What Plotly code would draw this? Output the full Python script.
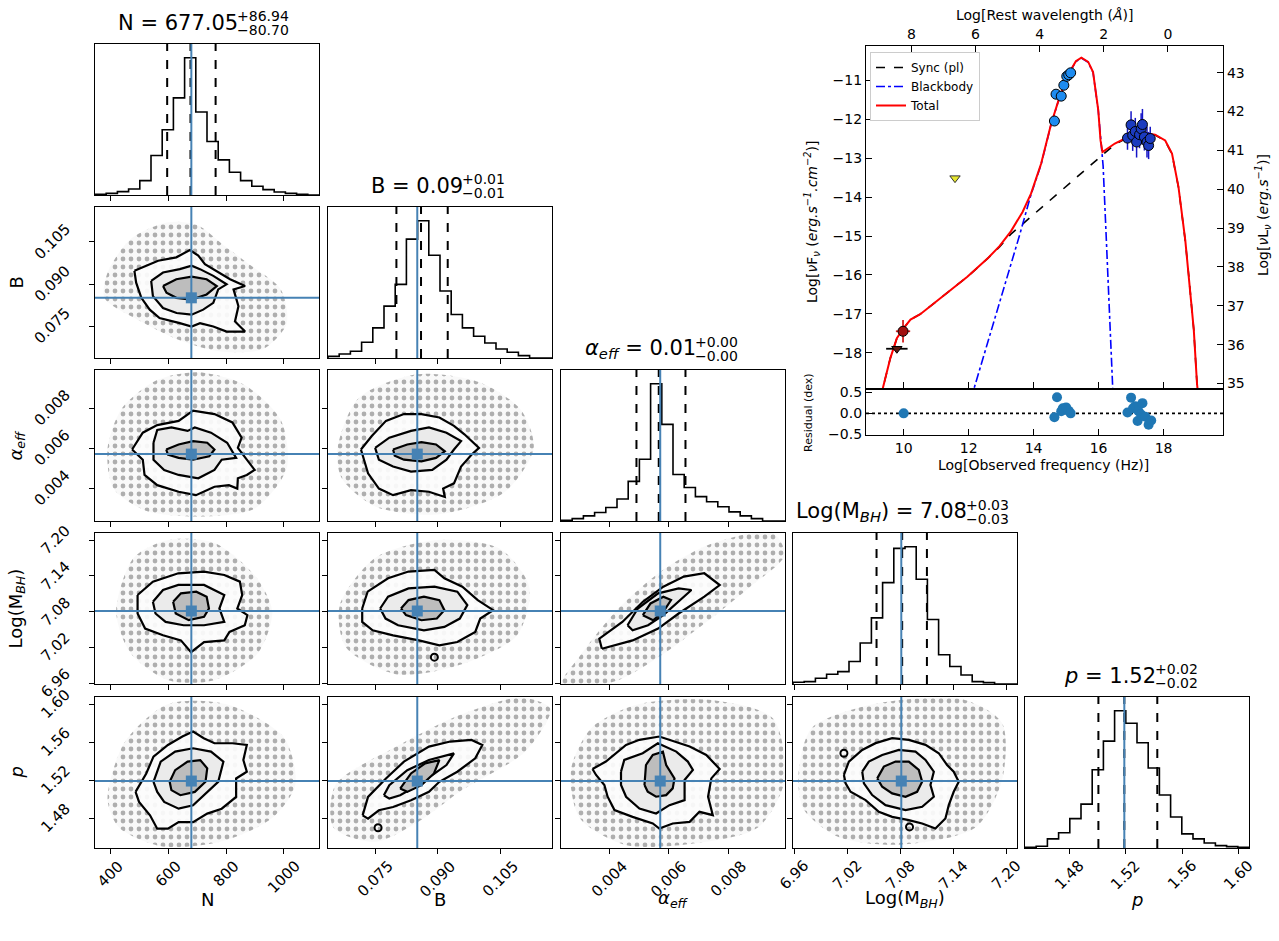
import numpy as np
import plotly.graph_objects as go

W, H = 1279, 941
FONT = "DejaVu Sans"
TRUTH = "#4682b4"
MINUS = "\u2212"

# ---------------- posterior summary (corner plot) ----------------
N_range = [346.6, 1121.8]
B_range = [0.0637, 0.1174]
A_range = [0.00237, 0.00991]
M_range = [6.9585, 7.2119]
P_range = [1.4485, 1.6075]

N_ticks = [400, 600, 800, 1000]
B_ticks = [0.075, 0.090, 0.105]
A_ticks = [0.004, 0.006, 0.008]
M_ticks = [6.96, 7.02, 7.08, 7.14, 7.20]
P_ticks = [1.48, 1.52, 1.56, 1.60]

N_truth, B_truth, A_truth, M_truth, P_truth = 680.0, 0.0851, 0.00571, 7.081, 1.519

# 16th / 50th / 84th percentiles
N_q = [596.35, 677.05, 763.99]
B_q = [0.0801, 0.0860, 0.0924]
A_q = [0.00491, 0.00566, 0.00656]
M_q = [7.053, 7.082, 7.110]
P_q = [1.5006, 1.5190, 1.5424]

# 20-bin marginal histograms over each axis range
N_hist = [2, 5, 10, 18, 43, 118, 195, 290, 410, 248, 160, 105, 68, 43, 26, 16, 9, 5, 2, 0]
B_hist = [5, 12, 20, 47, 90, 155, 220, 355, 410, 307, 200, 130, 90, 65, 45, 27, 17, 7, 0, 0]
A_hist = [2, 7, 15, 25, 40, 65, 117, 182, 405, 285, 137, 99, 72, 57, 42, 27, 15, 7, 0, 0]
M_hist = [5, 7, 17, 29, 37, 67, 122, 197, 302, 404, 409, 312, 192, 87, 52, 27, 7, 4, 0, 0]
P_hist = [2, 5, 27, 45, 87, 130, 232, 317, 407, 370, 312, 237, 157, 92, 42, 27, 15, 7, 4, 2]

# 2-D credible contours (outer / middle / inner) and sample-cloud outlines
B_N_outer = [(483, 0.0947), (565, 0.0983), (628, 0.0995), (675, 0.1021), (704, 0.1001), (727, 0.0971), (814, 0.0917), (866, 0.0893), (826, 0.0881), (843, 0.0821), (831, 0.0767), (866, 0.0731), (802, 0.0731), (756, 0.0749), (710, 0.0761), (681, 0.0749), (640, 0.0761), (570, 0.0779), (536, 0.0809), (507, 0.0851), (489, 0.0905)]
B_N_mid = [(541, 0.0911), (582, 0.0941), (640, 0.0953), (681, 0.0965), (710, 0.0953), (756, 0.0929), (802, 0.0899), (773, 0.0881), (756, 0.0833), (721, 0.0809), (681, 0.0791), (629, 0.0797), (582, 0.0815), (547, 0.0857)]
B_N_inner = [(582, 0.0893), (628, 0.0917), (681, 0.0926), (733, 0.0917), (768, 0.0893), (733, 0.0863), (681, 0.0845), (628, 0.0851), (594, 0.0869)]
B_N_cloud = [(390, 0.0940), (470, 0.1060), (600, 0.1120), (700, 0.1110), (790, 0.1040), (880, 0.0970), (990, 0.0880), (1010, 0.0760), (930, 0.0670), (780, 0.0660), (640, 0.0700), (500, 0.0770), (380, 0.0850)]

A_N_outer = [(475, 0.00594), (512, 0.00678), (562, 0.00716), (636, 0.00737), (686, 0.00788), (760, 0.00771), (822, 0.00729), (854, 0.00653), (841, 0.00602), (872, 0.00543), (899, 0.00492), (872, 0.00467), (841, 0.00450), (839, 0.00399), (810, 0.00416), (760, 0.00408), (696, 0.00366), (636, 0.00383), (562, 0.00416), (518, 0.00467), (512, 0.00543)]
A_N_mid = [(549, 0.00628), (562, 0.00692), (611, 0.00704), (667, 0.00687), (692, 0.00704), (748, 0.00678), (804, 0.00628), (835, 0.00552), (785, 0.00543), (760, 0.00492), (704, 0.00450), (636, 0.00467), (586, 0.00492), (549, 0.00543)]
A_N_inner = [(593, 0.00594), (636, 0.00619), (686, 0.00636), (735, 0.00628), (760, 0.00594), (742, 0.00560), (686, 0.00543), (636, 0.00552), (599, 0.00568)]
A_N_cloud = [(390, 0.0060), (440, 0.0080), (560, 0.0094), (700, 0.0098), (860, 0.0092), (990, 0.0074), (1010, 0.0050), (900, 0.0030), (700, 0.0026), (520, 0.0029), (410, 0.0040)]

A_B_outer = [(0.0716, 0.00594), (0.0742, 0.00661), (0.0776, 0.00737), (0.0819, 0.00771), (0.0861, 0.00771), (0.0904, 0.00754), (0.0939, 0.00712), (0.0964, 0.00670), (0.0999, 0.00602), (0.0981, 0.00568), (0.0956, 0.00509), (0.0939, 0.00425), (0.0913, 0.00399), (0.0917, 0.00357), (0.0879, 0.00383), (0.0836, 0.00391), (0.0793, 0.00366), (0.0759, 0.00399), (0.0733, 0.00475), (0.0724, 0.00543)]
A_B_mid = [(0.0750, 0.00602), (0.0784, 0.00653), (0.0836, 0.00687), (0.0879, 0.00704), (0.0921, 0.00678), (0.0956, 0.00636), (0.0939, 0.00594), (0.0921, 0.00543), (0.0887, 0.00492), (0.0836, 0.00484), (0.0793, 0.00509), (0.0759, 0.00543)]
A_B_inner = [(0.0793, 0.00594), (0.0827, 0.00619), (0.0861, 0.00631), (0.0896, 0.00619), (0.0917, 0.00585), (0.0896, 0.00552), (0.0861, 0.00535), (0.0819, 0.00543), (0.0797, 0.00563)]
A_B_cloud = [(0.0660, 0.0060), (0.0710, 0.0085), (0.0850, 0.0097), (0.1000, 0.0093), (0.1100, 0.0079), (0.1130, 0.0060), (0.1060, 0.0038), (0.0900, 0.0027), (0.0750, 0.0031), (0.0670, 0.0045)]

M_N_outer = [(494, 7.1078), (547, 7.1303), (635, 7.1443), (724, 7.1472), (794, 7.1415), (848, 7.1303), (856, 7.1078), (839, 7.0852), (874, 7.0740), (865, 7.0571), (812, 7.0458), (794, 7.0317), (724, 7.0289), (679, 7.0120), (644, 7.0317), (582, 7.0402), (520, 7.0515), (494, 7.0768)]
M_N_mid = [(547, 7.0965), (582, 7.1162), (635, 7.1247), (724, 7.1247), (794, 7.1078), (777, 7.0852), (794, 7.0627), (724, 7.0571), (653, 7.0571), (591, 7.0627), (556, 7.0768)]
M_N_inner = [(617, 7.0965), (644, 7.1106), (697, 7.1134), (733, 7.1050), (741, 7.0852), (724, 7.0712), (671, 7.0656), (626, 7.0768)]
M_N_cloud = [(420, 7.080), (480, 7.170), (600, 7.200), (760, 7.195), (900, 7.140), (960, 7.080), (910, 7.010), (760, 6.965), (600, 6.965), (470, 7.010)]

M_B_outer = [(0.0719, 7.0852), (0.0732, 7.1134), (0.0781, 7.1359), (0.0830, 7.1472), (0.0892, 7.1500), (0.0916, 7.1359), (0.0959, 7.1218), (0.0996, 7.0993), (0.1033, 7.0824), (0.1002, 7.0683), (0.0990, 7.0458), (0.0947, 7.0289), (0.0904, 7.0233), (0.0855, 7.0317), (0.0793, 7.0402), (0.0744, 7.0486), (0.0719, 7.0627)]
M_B_mid = [(0.0762, 7.0852), (0.0781, 7.1050), (0.0830, 7.1190), (0.0892, 7.1218), (0.0947, 7.1134), (0.0971, 7.0909), (0.0953, 7.0683), (0.0916, 7.0543), (0.0867, 7.0486), (0.0805, 7.0571), (0.0775, 7.0683)]
M_B_inner = [(0.0812, 7.0852), (0.0830, 7.0993), (0.0867, 7.1050), (0.0904, 7.0993), (0.0916, 7.0824), (0.0898, 7.0683), (0.0861, 7.0655), (0.0824, 7.0740)]
M_B_cloud = [(0.0665, 7.090), (0.0750, 7.170), (0.0900, 7.200), (0.1050, 7.185), (0.1120, 7.120), (0.1090, 7.040), (0.0950, 6.990), (0.0800, 6.975), (0.0680, 7.020)]
M_B_islands = [(0.0892, 7.0036)]

M_A_outer = [(0.003745, 7.0177), (0.003660, 7.0346), (0.004435, 7.0627), (0.005125, 7.0965), (0.005815, 7.1218), (0.006505, 7.1387), (0.007195, 7.1443), (0.007713, 7.1246), (0.007195, 7.1050), (0.006330, 7.0768), (0.005640, 7.0515), (0.004780, 7.0317)]
M_A_mid = [(0.004610, 7.0571), (0.004955, 7.0852), (0.005640, 7.1106), (0.006330, 7.1190), (0.006760, 7.1162), (0.006330, 7.0965), (0.005815, 7.0740), (0.005300, 7.0571), (0.004780, 7.0486)]
M_A_inner = [(0.005125, 7.0740), (0.005384, 7.0937), (0.005815, 7.1050), (0.006074, 7.0993), (0.005815, 7.0796), (0.005470, 7.0655)]
M_A_cloud = [(0.0024, 6.960), (0.0030, 7.005), (0.0043, 7.085), (0.0058, 7.150), (0.0075, 7.195), (0.0095, 7.212), (0.0099, 7.175), (0.0087, 7.120), (0.0072, 7.060), (0.0057, 7.005), (0.0043, 6.965), (0.0031, 6.955)]

P_N_outer = [(487, 1.5076), (524, 1.5270), (549, 1.5447), (599, 1.5570), (649, 1.5658), (686, 1.5711), (723, 1.5641), (760, 1.5588), (822, 1.5588), (872, 1.5570), (860, 1.5411), (872, 1.5288), (835, 1.5217), (835, 1.5023), (785, 1.4899), (735, 1.4847), (686, 1.4758), (636, 1.4758), (599, 1.4688), (562, 1.4688), (537, 1.4829), (499, 1.4970)]
P_N_mid = [(549, 1.5182), (574, 1.5394), (624, 1.5500), (686, 1.5535), (748, 1.5500), (791, 1.5394), (773, 1.5182), (735, 1.5076), (686, 1.4935), (636, 1.4899), (586, 1.4970), (562, 1.5076)]
P_N_inner = [(605, 1.5182), (624, 1.5305), (667, 1.5394), (711, 1.5411), (735, 1.5323), (729, 1.5182), (692, 1.5076), (642, 1.5041), (611, 1.5094)]
P_N_cloud = [(390, 1.500), (450, 1.560), (600, 1.600), (800, 1.600), (1000, 1.565), (1040, 1.515), (960, 1.480), (780, 1.455), (580, 1.450), (430, 1.470)]

P_B_outer = [(0.0720, 1.4829), (0.0733, 1.5023), (0.0776, 1.5217), (0.0819, 1.5394), (0.0879, 1.5553), (0.0930, 1.5606), (0.0981, 1.5623), (0.1007, 1.5570), (0.0990, 1.5429), (0.0947, 1.5288), (0.0904, 1.5182), (0.0879, 1.5076), (0.0836, 1.4988), (0.0793, 1.4917), (0.0759, 1.4882), (0.0733, 1.4794)]
P_B_mid = [(0.0771, 1.5041), (0.0784, 1.5147), (0.0827, 1.5305), (0.0879, 1.5411), (0.0939, 1.5482), (0.0921, 1.5358), (0.0887, 1.5252), (0.0853, 1.5147), (0.0810, 1.5041), (0.0784, 1.5005)]
P_B_inner = [(0.0810, 1.5111), (0.0836, 1.5270), (0.0870, 1.5376), (0.0904, 1.5411), (0.0891, 1.5270), (0.0861, 1.5147), (0.0827, 1.5076)]
P_B_cloud = [(0.0650, 1.470), (0.0655, 1.515), (0.0800, 1.555), (0.0950, 1.588), (0.1100, 1.607), (0.1170, 1.595), (0.1110, 1.550), (0.0960, 1.510), (0.0860, 1.478), (0.0750, 1.455)]
P_B_islands = [(0.0757, 1.4698)]

P_A_outer = [(0.00343, 1.5317), (0.00388, 1.5395), (0.00456, 1.5571), (0.00501, 1.5624), (0.00568, 1.5659), (0.00670, 1.5553), (0.00726, 1.5465), (0.00771, 1.5317), (0.00743, 1.5218), (0.00732, 1.5025), (0.00748, 1.4831), (0.00703, 1.4866), (0.00670, 1.4760), (0.00613, 1.4743), (0.00568, 1.4690), (0.00546, 1.4743), (0.00478, 1.4813), (0.00417, 1.4884), (0.00394, 1.5025), (0.00383, 1.5148), (0.00355, 1.5254)]
P_A_mid = [(0.00439, 1.5289), (0.00450, 1.5412), (0.00512, 1.5483), (0.00563, 1.5588), (0.00625, 1.5500), (0.00664, 1.5395), (0.00681, 1.5307), (0.00653, 1.5201), (0.00653, 1.4989), (0.00602, 1.4936), (0.00557, 1.4848), (0.00501, 1.4901), (0.00456, 1.5025), (0.00439, 1.5148)]
P_A_inner = [(0.00518, 1.5148), (0.00523, 1.5359), (0.00546, 1.5465), (0.00580, 1.5500), (0.00591, 1.5359), (0.00619, 1.5218), (0.00613, 1.5113), (0.00591, 1.5042), (0.00557, 1.5025), (0.00529, 1.5077)]
P_A_cloud = [(0.0027, 1.530), (0.0034, 1.575), (0.0050, 1.600), (0.0075, 1.604), (0.0095, 1.585), (0.0099, 1.520), (0.0090, 1.470), (0.0065, 1.452), (0.0045, 1.452), (0.0030, 1.480)]

P_M_outer = [(7.0161, 1.5254), (7.0217, 1.5395), (7.0368, 1.5518), (7.0519, 1.5589), (7.0707, 1.5641), (7.0895, 1.5624), (7.1084, 1.5571), (7.1234, 1.5483), (7.1328, 1.5359), (7.1403, 1.5289), (7.1460, 1.5183), (7.1403, 1.5077), (7.1347, 1.4936), (7.1309, 1.4795), (7.1196, 1.4690), (7.1046, 1.4743), (7.0895, 1.4778), (7.0707, 1.4813), (7.0556, 1.4866), (7.0406, 1.4989), (7.0236, 1.5077), (7.0180, 1.5166)]
P_M_mid = [(7.0368, 1.5289), (7.0443, 1.5395), (7.0594, 1.5465), (7.0782, 1.5518), (7.0971, 1.5500), (7.1084, 1.5412), (7.1178, 1.5289), (7.1140, 1.5148), (7.1178, 1.5025), (7.1046, 1.4919), (7.0858, 1.4884), (7.0632, 1.4936), (7.0481, 1.5042), (7.0387, 1.5166)]
P_M_inner = [(7.0538, 1.5218), (7.0613, 1.5342), (7.0745, 1.5395), (7.0895, 1.5395), (7.1008, 1.5307), (7.1046, 1.5183), (7.0989, 1.5077), (7.0858, 1.5025), (7.0707, 1.5060), (7.0594, 1.5130)]
P_M_cloud = [(6.965, 1.530), (6.980, 1.575), (7.050, 1.600), (7.150, 1.605), (7.195, 1.580), (7.195, 1.520), (7.165, 1.470), (7.080, 1.452), (7.010, 1.460), (6.970, 1.490)]
P_M_islands = [(7.0161, 1.5483), (7.0903, 1.4707)]

# ---------------- spectral energy distribution ----------------
total_x = [9.30, 9.36, 9.59, 9.79, 10.00, 10.21, 10.51, 11.13, 11.96, 12.58, 12.95, 13.30, 13.66, 13.92, 14.23, 14.54, 14.80, 15.11, 15.30, 15.47, 15.68, 15.83, 15.99, 16.06, 16.12, 16.50, 16.91, 17.20, 17.53, 17.74, 18.05, 18.26, 18.46, 18.67, 18.77, 18.93, 19.03, 19.08]
total_y = [-19.20, -18.91, -18.14, -17.63, -17.37, -17.15, -17.01, -16.60, -16.05, -15.58, -15.26, -14.88, -14.38, -13.91, -13.14, -12.11, -11.42, -10.78, -10.50, -10.41, -10.52, -10.78, -11.76, -12.54, -12.84, -12.62, -12.45, -12.38, -12.37, -12.39, -12.54, -12.88, -13.74, -15.12, -15.96, -17.40, -18.80, -19.20]

sync_x = [9.30, 9.36, 9.59, 9.79, 10.00, 10.21, 10.51, 11.13, 11.96, 12.58, 12.95, 13.30, 16.14, 16.50, 16.91, 17.20, 17.53, 17.74, 18.05, 18.26, 18.46, 18.67, 18.77, 18.93, 19.03, 19.08]
sync_y = [-19.20, -18.91, -18.14, -17.63, -17.37, -17.15, -17.01, -16.60, -16.05, -15.58, -15.28, -14.95, -12.88, -12.64, -12.46, -12.39, -12.38, -12.40, -12.55, -12.89, -13.75, -15.13, -15.97, -17.41, -18.81, -19.20]

bb_x = [12.08, 12.17, 13.56, 13.92, 14.23, 14.54, 14.80, 15.11, 15.30, 15.47, 15.68, 15.83, 15.99, 16.06, 16.14, 16.24, 16.42, 16.45]
bb_y = [-19.20, -18.91, -15.00, -13.93, -13.16, -12.12, -11.43, -10.79, -10.51, -10.42, -10.53, -10.79, -11.77, -12.56, -13.20, -15.12, -18.83, -19.20]

uv_x = [14.64, 14.69, 14.85, 14.93, 15.02, 15.08, 15.14]
uv_y = [-12.04, -11.35, -11.40, -11.12, -10.89, -10.85, -10.80]

xray_x = [16.89, 17.00, 17.05, 17.13, 17.17, 17.26, 17.31, 17.35, 17.41, 17.49, 17.54, 17.59]
xray_y = [-12.48, -12.14, -12.41, -12.31, -12.58, -12.39, -12.24, -12.13, -12.45, -12.58, -12.67, -12.49]
xray_yerr = [0.30, 0.35, 0.40, 0.35, 0.40, 0.35, 0.40, 0.40, 0.35, 0.40, 0.35, 0.30]
xray_xerr = [0.04, 0.04, 0.04, 0.04, 0.04, 0.04, 0.04, 0.04, 0.04, 0.04, 0.04, 0.04]

radio_x, radio_y, radio_xerr, radio_yerr = [9.98], [-17.45], [0.22], [0.29]
radio_lim_x, radio_lim_y, radio_lim_xerr = [9.79], [-17.90], [0.33]
mir_lim_x, mir_lim_y = [11.58], [-13.51]

resid_x = [10.00, 14.64, 14.72, 14.85, 14.90, 15.00, 15.08, 15.14, 16.89, 17.00, 17.06, 17.13, 17.20, 17.23, 17.31, 17.35, 17.44, 17.54, 17.62]
resid_y = [0.00, -0.09, 0.38, 0.05, 0.12, 0.14, 0.06, 0.00, 0.02, 0.37, 0.12, 0.17, -0.18, 0.05, -0.03, 0.24, -0.08, -0.27, -0.17]

sed_x_range = [8.84, 19.83]
sed_y_range = [-18.91, -10.11]
lum_y_range = [34.885, 43.685]
wave_range = [9.414, -1.717]
resid_range = [-0.51, 0.55]
freq_ticks = [10, 12, 14, 16, 18]
flux_ticks = [-18, -17, -16, -15, -14, -13, -12, -11]
lum_ticks = [35, 36, 37, 38, 39, 40, 41, 42, 43]
wave_ticks = [8, 6, 4, 2, 0]
resid_ticks = [-0.5, 0.0, 0.5]

# ---------------- layout helpers ----------------
def px(x, y):
    return x / W, 1 - y / H


def aid(k):
    return "" if k == 1 else str(k)


def panel_id(i, j):
    return i * (i + 1) // 2 + j + 1


col_left = [95, 328, 561, 793, 1025]
row_top = [44, 207, 370, 533, 697]
PW, PH = 224, 151
TICK_FONT = 15

ranges = [N_range, B_range, A_range, M_range, P_range]
tickv = [N_ticks, B_ticks, A_ticks, M_ticks, P_ticks]
tickfmt = ["{:.0f}", "{:.3f}", "{:.3f}", "{:.2f}", "{:.2f}"]
truths = [N_truth, B_truth, A_truth, M_truth, P_truth]
quants = [N_q, B_q, A_q, M_q, P_q]
hists = [N_hist, B_hist, A_hist, M_hist, P_hist]
contours = {
    (1, 0): (B_N_cloud, B_N_outer, B_N_mid, B_N_inner, []),
    (2, 0): (A_N_cloud, A_N_outer, A_N_mid, A_N_inner, []),
    (2, 1): (A_B_cloud, A_B_outer, A_B_mid, A_B_inner, []),
    (3, 0): (M_N_cloud, M_N_outer, M_N_mid, M_N_inner, []),
    (3, 1): (M_B_cloud, M_B_outer, M_B_mid, M_B_inner, M_B_islands),
    (3, 2): (M_A_cloud, M_A_outer, M_A_mid, M_A_inner, []),
    (4, 0): (P_N_cloud, P_N_outer, P_N_mid, P_N_inner, []),
    (4, 1): (P_B_cloud, P_B_outer, P_B_mid, P_B_inner, P_B_islands),
    (4, 2): (P_A_cloud, P_A_outer, P_A_mid, P_A_inner, []),
    (4, 3): (P_M_cloud, P_M_outer, P_M_mid, P_M_inner, P_M_islands),
}

fig = go.Figure()
layout = dict(
    width=W, height=H, margin=dict(l=0, r=0, t=0, b=0, autoexpand=False),
    paper_bgcolor="white", plot_bgcolor="white",
    font=dict(family=FONT, color="black", size=14),
    showlegend=True,
)
shapes, annotations = [], []

axis_common = dict(showgrid=False, zeroline=False, showline=True, linecolor="black",
                   linewidth=1.3, ticklen=5, tickwidth=1.2, tickcolor="black", automargin=False)


def closed(pts):
    xs = [p[0] for p in pts] + [pts[0][0]]
    ys = [p[1] for p in pts] + [pts[0][1]]
    return xs, ys


for i in range(5):
    for j in range(i + 1):
        k = panel_id(i, j)
        xa, ya = "x" + aid(k), "y" + aid(k)
        x0, x1 = col_left[j], col_left[j] + PW
        y0, y1 = row_top[i], row_top[i] + PH
        xd = [x0 / W, x1 / W]
        yd = [1 - y1 / H, 1 - y0 / H]
        layout["xaxis" + aid(k)] = dict(
            axis_common, domain=xd, anchor=ya, range=ranges[j], tickvals=tickv[j],
            ticks="outside", mirror=True, showticklabels=False)
        if i == j:
            hist = hists[i]
            layout["yaxis" + aid(k)] = dict(
                axis_common, domain=yd, anchor=xa, range=[0, 1.1 * max(hist)],
                ticks="", showticklabels=False, mirror=True)
            edges = list(np.linspace(ranges[i][0], ranges[i][1], len(hist) + 1))
            hx = [edges[0]] + edges[:-1] + [edges[-1], edges[-1]]
            hy = [0] + hist + [hist[-1], 0]
            fig.add_trace(go.Scatter(x=hx, y=hy, mode="lines", line=dict(color="black", width=1.6, shape="hv"),
                                     xaxis=xa, yaxis=ya, showlegend=False, hoverinfo="skip"))
            for qv in quants[i]:
                shapes.append(dict(type="line", xref=xa, yref=f"{ya} domain", x0=qv, x1=qv, y0=0, y1=1,
                                   line=dict(color="black", width=2, dash="dash")))
            shapes.append(dict(type="line", xref=xa, yref=f"{ya} domain", x0=truths[i], x1=truths[i],
                               y0=0, y1=1, line=dict(color=TRUTH, width=2)))
        else:
            layout["yaxis" + aid(k)] = dict(
                axis_common, domain=yd, anchor=xa, range=ranges[i], tickvals=tickv[i],
                ticks="outside", mirror=True, showticklabels=False)
            cloud, outer, mid, inner, islands = contours[(i, j)]
            cx, cy = closed(cloud)
            fig.add_trace(go.Scatter(
                x=cx, y=cy, mode="lines", line=dict(width=0, shape="spline", smoothing=0.8),
                fill="toself", fillcolor="rgba(0,0,0,0.025)",
                fillpattern=dict(shape=".", size=8, solidity=0.28, fgcolor="#444444",
                                 fgopacity=0.42, fillmode="overlay"),
                xaxis=xa, yaxis=ya, showlegend=False, hoverinfo="skip"))
            for pts, fc in ((outer, "rgba(252,252,252,0.93)"), (mid, "#ebebeb"), (inner, "#bdbdbd")):
                px_, py_ = closed(pts)
                fig.add_trace(go.Scatter(
                    x=px_, y=py_, mode="lines", line=dict(color="black", width=2.2),
                    fill="toself", fillcolor=fc, xaxis=xa, yaxis=ya,
                    showlegend=False, hoverinfo="skip"))
            if islands:
                fig.add_trace(go.Scatter(
                    x=[p[0] for p in islands], y=[p[1] for p in islands], mode="markers",
                    marker=dict(symbol="circle-open", size=7, color="black", line=dict(width=2)),
                    xaxis=xa, yaxis=ya, showlegend=False, hoverinfo="skip"))
            fig.add_trace(go.Scatter(
                x=[truths[j]], y=[truths[i]], mode="markers",
                marker=dict(symbol="square", size=11, color=TRUTH),
                xaxis=xa, yaxis=ya, showlegend=False, hoverinfo="skip"))
            shapes.append(dict(type="line", xref=xa, yref=f"{ya} domain", x0=truths[j], x1=truths[j],
                               y0=0, y1=1, line=dict(color=TRUTH, width=2)))
            shapes.append(dict(type="line", xref=f"{xa} domain", yref=ya, x0=0, x1=1, y0=truths[i],
                               y1=truths[i], line=dict(color=TRUTH, width=2)))

# rotated tick labels, centred under (or beside) their ticks
label_top = row_top[4] + PH + 8
for j in range(5):
    xa = "x" + aid(panel_id(4, j))
    for t in tickv[j]:
        annotations.append(dict(text=tickfmt[j].format(t), x=t, xref=xa, y=1 - label_top / H, yref="paper",
                                xanchor="center", yanchor="top", textangle=-45, showarrow=False,
                                font=dict(size=TICK_FONT), borderpad=0))
for i in range(1, 5):
    ya = "y" + aid(panel_id(i, 0))
    for t in tickv[i]:
        annotations.append(dict(text=tickfmt[i].format(t), y=t, yref=ya, x=(col_left[0] - 20) / W, xref="paper",
                                xanchor="right", yanchor="middle", textangle=-45, showarrow=False,
                                font=dict(size=TICK_FONT), borderpad=0))

# panel titles: value with asymmetric uncertainties
title_names = ["N", "B", "<i>\u03b1</i><sub><i>eff</i></sub>", "Log(M<sub><i>BH</i></sub>)", "<i>p</i>"]
title_right = [240, 465, 698, 969, 1158]
for i in range(5):
    q16, q50, q84 = quants[i]
    yc = row_top[i] - 21
    ax_, ay_ = px(title_right[i], yc)
    annotations.append(dict(text=f"{title_names[i]} = {q50:.2f}", x=ax_, y=ay_, xref="paper", yref="paper",
                            xanchor="right", yanchor="middle", showarrow=False, font=dict(size=21)))
    sx, sy = px(title_right[i] - 5, yc - 7)
    annotations.append(dict(text=f"+{q84 - q50:.2f}", x=sx, y=sy, xref="paper", yref="paper",
                            xanchor="left", yanchor="middle", showarrow=False, font=dict(size=14)))
    bx, by = px(title_right[i] - 5, yc + 7)
    annotations.append(dict(text=f"{MINUS}{q50 - q16:.2f}", x=bx, y=by, xref="paper", yref="paper",
                            xanchor="left", yanchor="middle", showarrow=False, font=dict(size=14)))

# axis labels of the corner plot
for j in range(5):
    lx, ly = px(col_left[j] + PW / 2, 899)
    annotations.append(dict(text=title_names[j], x=lx, y=ly, xref="paper", yref="paper",
                            xanchor="center", yanchor="middle", showarrow=False, font=dict(size=18)))
for i in range(1, 5):
    lx, ly = px(16, row_top[i] + PH / 2)
    annotations.append(dict(text=title_names[i], x=lx, y=ly, xref="paper", yref="paper", textangle=-90,
                            xanchor="center", yanchor="middle", showarrow=False, font=dict(size=18)))

# ---------------- SED panel ----------------
sx0, sx1 = 866, 1223
main_top, main_bot = 46, 388
res_top, res_bot = 390, 435
sed_xd = [sx0 / W, sx1 / W]
sed_common = dict(axis_common, ticks="inside", tickfont=dict(size=14), ticklen=6)

layout["xaxis16"] = dict(sed_common, domain=sed_xd, anchor="y16", range=sed_x_range,
                         tickvals=freq_ticks, showticklabels=False)
layout["yaxis16"] = dict(sed_common, domain=[1 - main_bot / H, 1 - main_top / H], anchor="x16",
                         range=sed_y_range, tickvals=flux_ticks, tickformat="d")
layout["xaxis17"] = dict(sed_common, overlaying="x16", side="top", anchor="y16", range=wave_range,
                         tickvals=wave_ticks)
layout["yaxis17"] = dict(sed_common, overlaying="y16", side="right", anchor="x16", range=lum_y_range,
                         tickvals=lum_ticks)
layout["xaxis18"] = dict(sed_common, domain=sed_xd, anchor="y18", range=sed_x_range,
                         tickvals=freq_ticks, mirror=True)
layout["yaxis18"] = dict(sed_common, domain=[1 - res_bot / H, 1 - res_top / H], anchor="x18",
                         range=resid_range, tickvals=resid_ticks, tickformat=".1f", mirror=True)

# keep the twin axes alive
fig.add_trace(go.Scatter(x=[wave_ticks[0]], y=[flux_ticks[0]], mode="markers", marker=dict(opacity=0),
                         xaxis="x17", yaxis="y16", showlegend=False, hoverinfo="skip"))
fig.add_trace(go.Scatter(x=[freq_ticks[0]], y=[lum_ticks[0]], mode="markers", marker=dict(opacity=0),
                         xaxis="x16", yaxis="y17", showlegend=False, hoverinfo="skip"))

fig.add_trace(go.Scatter(x=sync_x, y=sync_y, mode="lines", name="Sync (pl)",
                         line=dict(color="black", width=1.6, dash="dash"), xaxis="x16", yaxis="y16"))
fig.add_trace(go.Scatter(x=bb_x, y=bb_y, mode="lines", name="Blackbody",
                         line=dict(color="blue", width=1.6, dash="dashdot"), xaxis="x16", yaxis="y16"))
fig.add_trace(go.Scatter(x=total_x, y=total_y, mode="lines", name="Total",
                         line=dict(color="red", width=2), xaxis="x16", yaxis="y16"))

fig.add_trace(go.Scatter(x=mir_lim_x, y=mir_lim_y, mode="markers", showlegend=False,
                         marker=dict(symbol="triangle-down", size=9, color="#e6e62e",
                                     line=dict(color="#333333", width=1)),
                         xaxis="x16", yaxis="y16"))
fig.add_trace(go.Scatter(x=radio_lim_x, y=radio_lim_y, mode="markers", showlegend=False,
                         error_x=dict(type="data", array=radio_lim_xerr, color="black", thickness=1.8, width=0),
                         marker=dict(symbol="triangle-down", size=9, color="#5a1810",
                                     line=dict(color="black", width=1)),
                         xaxis="x16", yaxis="y16"))
fig.add_trace(go.Scatter(x=radio_x, y=radio_y, mode="markers", showlegend=False,
                         error_x=dict(type="data", array=radio_xerr, color="#d42020", thickness=1.8, width=0),
                         error_y=dict(type="data", array=radio_yerr, color="#d42020", thickness=1.8, width=0),
                         marker=dict(symbol="circle", size=10, color="#a01010",
                                     line=dict(color="black", width=1)),
                         xaxis="x16", yaxis="y16"))
fig.add_trace(go.Scatter(x=xray_x, y=xray_y, mode="markers", showlegend=False,
                         error_x=dict(type="data", array=xray_xerr, color="#1515c8", thickness=1.5, width=0),
                         error_y=dict(type="data", array=xray_yerr, color="#1515c8", thickness=1.5, width=0),
                         marker=dict(symbol="circle", size=10, color="#1b3bbf",
                                     line=dict(color="black", width=1)),
                         xaxis="x16", yaxis="y16"))
fig.add_trace(go.Scatter(x=uv_x, y=uv_y, mode="markers", showlegend=False,
                         marker=dict(symbol="circle", size=10, color="#1e8cf0",
                                     line=dict(color="black", width=1)),
                         xaxis="x16", yaxis="y16"))

fig.add_trace(go.Scatter(x=resid_x, y=resid_y, mode="markers", showlegend=False,
                         marker=dict(symbol="circle", size=10, color="#1f77b4"),
                         xaxis="x18", yaxis="y18"))
shapes.append(dict(type="line", xref="x18 domain", yref="y18", x0=0, x1=1, y0=0, y1=0,
                   line=dict(color="black", width=1.6, dash="dot"), layer="below"))

# SED axis titles
for text, (xx, yy), ang, size in [
    ("Log[Rest wavelength (<i>\u00c5</i>)]", (1044, 15), 0, 14),
    ("Log[Observed frequency (Hz)]", (1043, 465), 0, 14),
    ("Log[<i>\u03bd</i>F<sub><i>\u03bd</i></sub> (<i>erg.s<sup>\u22121</sup>.cm<sup>\u22122</sup></i>)]", (812, 222), -90, 14),
    ("Log[<i>\u03bd</i>L<sub><i>\u03bd</i></sub> (<i>erg.s<sup>\u22121</sup></i>)]", (1263, 215), -90, 14),
    ("Residual (dex)", (808, 413), -90, 11),
]:
    ax_, ay_ = px(xx, yy)
    annotations.append(dict(text=text, x=ax_, y=ay_, xref="paper", yref="paper", textangle=ang,
                            xanchor="center", yanchor="middle", showarrow=False, font=dict(size=size)))

lgx, lgy = px(870, 52)
layout["legend"] = dict(x=lgx, y=lgy, xanchor="left", yanchor="top", bgcolor="white",
                        bordercolor="#cccccc", borderwidth=1, font=dict(size=12),
                        tracegroupgap=0, itemwidth=30)
layout["shapes"] = shapes
layout["annotations"] = annotations
fig.update_layout(**layout)
fig.write_html("out.html")
